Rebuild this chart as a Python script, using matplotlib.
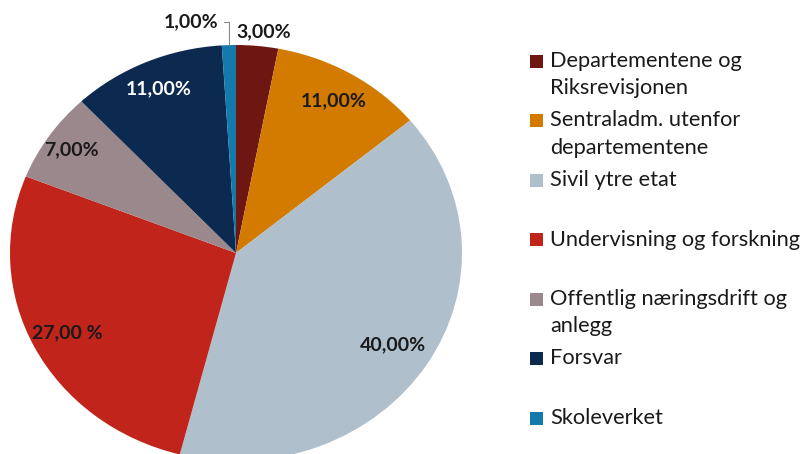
import matplotlib.pyplot as plt
import matplotlib.patches as mpatches
import numpy as np

categories = ["Departementene og\nRiksrevisjonen", "Sentraladm. utenfor\ndepartementene",
              "Sivil ytre etat", "Undervisning og forskning",
              "Offentlig næringsdrift og\nanlegg", "Forsvar", "Skoleverket"]
values = [3, 11, 40, 27, 7, 11, 1]
pct_labels = ["3,00%", "11,00%", "40,00%", "27,00 %", "7,00%", "11,00%", "1,00%"]
colors = ["#6e1712", "#d27b00", "#afc0cc", "#c1241a", "#9b888d", "#0c2a4f", "#1479ab"]

plt.rcParams['font.family'] = ['Lato', 'DejaVu Sans']

W, H = 802, 454
fig = plt.figure(figsize=(W / 100, H / 100), dpi=100)

# pie is slightly wider than tall in the reference
cx, cy, rx, ry = 236, 253, 226, 208
ax = fig.add_axes([(cx - rx) / W, (H - cy - ry) / H, 2 * rx / W, 2 * ry / H])
wedges, _ = ax.pie(values, colors=colors, startangle=90, counterclock=False,
                   wedgeprops=dict(linewidth=0))
ax.set_aspect('auto')
ax.set_xlim(-1, 1)
ax.set_ylim(-1, 1)
ax.axis('off')

dist = [1.07, 0.85, 0.82, 0.84, 0.88, 0.86, None]
txt_colors = ["#1a1a1a"] * 5 + ["white", "#1a1a1a"]
lab_size = 14
for w, lab, d, tc in zip(wedges, pct_labels, dist, txt_colors):
    mid = np.deg2rad((w.theta1 + w.theta2) / 2)
    if d is None:
        ax.annotate(lab, xy=(np.cos(mid) * 1.0, 1.0), xytext=(-0.2, 1.11),
                    ha='center', va='center', fontsize=lab_size, fontweight='bold',
                    color=tc, annotation_clip=False,
                    arrowprops=dict(arrowstyle='-', color='#888888', lw=0.8,
                                    connectionstyle='angle,angleA=0,angleB=90,rad=0',
                                    shrinkA=2, shrinkB=0))
        continue
    x, y = np.cos(mid) * d, np.sin(mid) * d
    if d > 1:
        x = x + 0.02
    ax.text(x, y, lab, ha='center', va='center', fontsize=lab_size,
            fontweight='bold', color=tc, clip_on=False)

# legend drawn by hand to match the even spacing
lx, ly0, lstep, line_h, sq = 530, 61, 59.5, 27, 13
for i, (cat, col) in enumerate(zip(categories, colors)):
    yc = ly0 + i * lstep
    fig.patches.append(mpatches.Rectangle((lx / W, 1 - (yc + sq / 2) / H), sq / W, sq / H,
                                          transform=fig.transFigure, facecolor=col,
                                          edgecolor='none'))
    for j, line in enumerate(cat.split("\n")):
        fig.text((lx + 20) / W, 1 - (yc + j * line_h) / H, line, ha='left',
                 va='center', fontsize=15.7, color='#1a1a1a')

fig.savefig("out.png", dpi=100)
